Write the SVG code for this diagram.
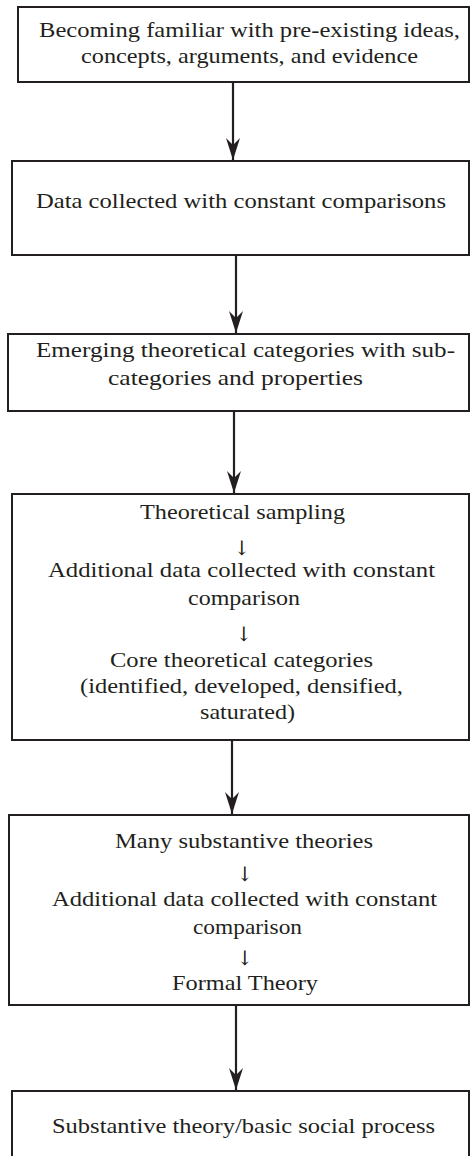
<svg xmlns="http://www.w3.org/2000/svg" width="470" height="1156" viewBox="0 0 470 1156">
<style>
.box{fill:#fff;stroke:#231f20;stroke-width:2}
.c{stroke:#231f20;stroke-width:2.2;fill:none}
.ar{font-family:'DejaVu Serif',serif;font-size:20px}
</style>
<defs>
<marker id="ah" markerUnits="userSpaceOnUse" markerWidth="24" markerHeight="16" viewBox="-23 -8 24 16" refX="0" refY="0" orient="auto">
<path d="M0,0 L-22,-7 L-15,0 L-22,7 Z" fill="#231f20"/>
</marker>
</defs>
<rect width="470" height="1156" fill="#fff"/>
<g id="connectors">
<line class="c" x1="233" y1="82" x2="233" y2="160" marker-end="url(#ah)"/>
<line class="c" x1="236" y1="255" x2="236" y2="333" marker-end="url(#ah)"/>
<line class="c" x1="234" y1="411" x2="234" y2="493" marker-end="url(#ah)"/>
<line class="c" x1="232" y1="740" x2="232" y2="814" marker-end="url(#ah)"/>
<line class="c" x1="236" y1="1005" x2="236" y2="1090" marker-end="url(#ah)"/>
</g>
<g font-family="Liberation Serif, Times New Roman, serif" font-size="21" fill="#231f20">
<g id="n1">
<rect class="box" x="18" y="7" width="451" height="75"/>
<text x="39" y="36.5" textLength="421" lengthAdjust="spacingAndGlyphs">Becoming familiar with pre-existing ideas,</text>
<text x="81" y="63" textLength="337" lengthAdjust="spacingAndGlyphs">concepts, arguments, and evidence</text>
</g>
<g id="n2">
<rect class="box" x="12" y="161" width="457" height="94"/>
<text x="36" y="208" textLength="410" lengthAdjust="spacingAndGlyphs">Data collected with constant comparisons</text>
</g>
<g id="n3">
<rect class="box" x="8" y="334" width="461" height="77"/>
<text x="36" y="357" textLength="419" lengthAdjust="spacingAndGlyphs">Emerging theoretical categories with sub-</text>
<text x="108" y="385" textLength="255" lengthAdjust="spacingAndGlyphs">categories and properties</text>
</g>
<g id="n4">
<rect class="box" x="12" y="494" width="457" height="246"/>
<text x="140" y="519" textLength="205" lengthAdjust="spacingAndGlyphs">Theoretical sampling</text>
<text class="ar" x="242" y="555" text-anchor="middle">↓</text>
<text x="48" y="577" textLength="387" lengthAdjust="spacingAndGlyphs">Additional data collected with constant</text>
<text x="188" y="604.5" textLength="112" lengthAdjust="spacingAndGlyphs">comparison</text>
<text class="ar" x="244" y="641" text-anchor="middle">↓</text>
<text x="110" y="667" textLength="263" lengthAdjust="spacingAndGlyphs">Core theoretical categories</text>
<text x="80" y="693" textLength="323" lengthAdjust="spacingAndGlyphs">(identified, developed, densified,</text>
<text x="200" y="719" textLength="95" lengthAdjust="spacingAndGlyphs">saturated)</text>
</g>
<g id="n5">
<rect class="box" x="9" y="815" width="460" height="190"/>
<text x="115" y="848" textLength="258" lengthAdjust="spacingAndGlyphs">Many substantive theories</text>
<text class="ar" x="245" y="881" text-anchor="middle">↓</text>
<text x="52" y="906" textLength="385" lengthAdjust="spacingAndGlyphs">Additional data collected with constant</text>
<text x="193" y="933.5" textLength="109" lengthAdjust="spacingAndGlyphs">comparison</text>
<text class="ar" x="245" y="965" text-anchor="middle">↓</text>
<text x="172" y="990" textLength="146" lengthAdjust="spacingAndGlyphs">Formal Theory</text>
</g>
<g id="n6">
<rect class="box" x="12" y="1091" width="457" height="80"/>
<text x="52" y="1133" textLength="383" lengthAdjust="spacingAndGlyphs">Substantive theory/basic social process</text>
</g>
</g>
</svg>
